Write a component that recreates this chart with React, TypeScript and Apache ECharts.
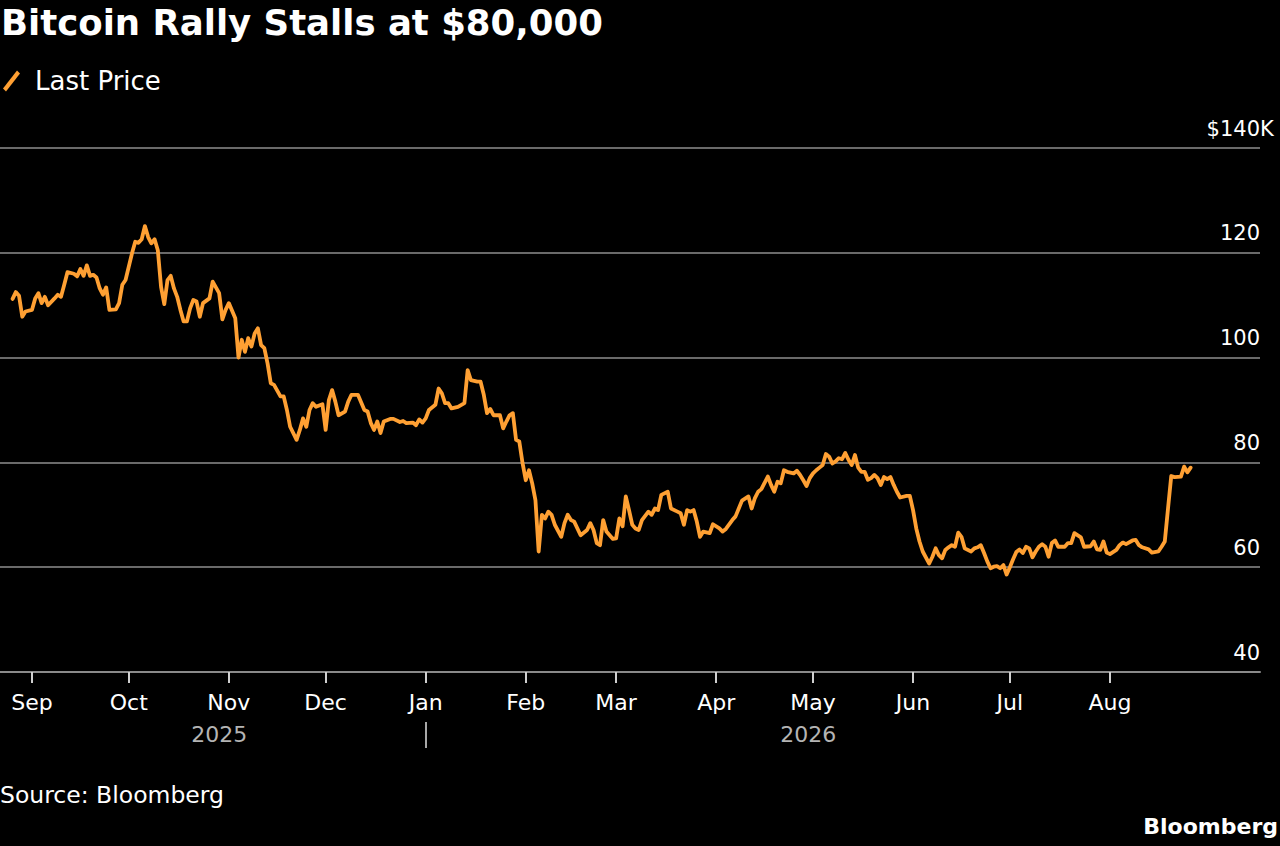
import React, { useEffect, useRef } from "react";
import * as echarts from "echarts";

const TITLE = "Bitcoin Rally Stalls at $80,000";
const SERIES_NAME = "Last Price";
const SOURCE = "Source: Bloomberg";
const BRAND = "Bloomberg";

// Day offsets from 1 Sep 2025 (UTC) and the price in $ thousands
const dayOffsets = [
  -6, -5, -4, -3, -2, 0, 1, 2, 3, 4, 5, 7, 8, 9, 10, 11, 13, 14, 15, 16, 17, 18, 19, 20, 21, 22, 23, 24, 26, 27, 28, 29,
  31, 32, 33, 34, 35, 36, 37, 38, 39, 40, 41, 42, 43, 44, 45, 46, 47, 48, 49, 50, 51, 52, 53, 55, 56, 58, 59, 60,
  61, 63, 64, 65, 66, 67, 68, 69, 70, 71, 72, 73, 74, 75, 77, 78, 79, 80, 82, 83, 84, 85, 86, 87, 88, 90,
  91, 92, 93, 94, 95, 97, 98, 99, 101, 103, 104, 105, 106, 107, 108, 109, 111, 112, 114, 115, 116, 118, 119, 120, 121,
  122, 123, 125, 126, 127, 128, 129, 130, 132, 134, 135, 136, 138, 139, 140, 141, 142, 143, 145, 146, 147, 148, 149, 150, 151, 152,
  153, 154, 155, 156, 157, 158, 159, 160, 161, 162, 164, 165, 166, 167, 168, 170, 172, 173, 174, 175, 176, 177, 178, 180,
  181, 182, 183, 184, 185, 186, 187, 188, 189, 191, 192, 193, 194, 195, 197, 198, 200, 201, 202, 203, 204, 205, 206, 207, 208, 210, 211,
  213, 214, 215, 217, 218, 219, 220, 222, 223, 224, 225, 226, 228, 229, 230, 231, 232, 233, 234, 236, 237, 238, 239, 240, 241,
  242, 243, 244, 245, 246, 247, 248, 249, 250, 251, 252, 253, 254, 255, 256, 257, 258, 259, 260, 261, 262, 263, 264, 265, 266, 267, 268, 269, 271, 272,
  273, 274, 275, 276, 278, 279, 280, 281, 282, 283, 284, 285, 286, 287, 288, 289, 291, 292, 293, 294, 295, 296, 297, 298, 299, 300, 301, 302,
  303, 304, 305, 306, 307, 308, 309, 310, 311, 312, 313, 314, 315, 316, 317, 318, 320, 321, 322, 323, 325, 326, 328, 329, 330, 331, 332, 333,
  334, 336, 337, 338, 339, 341, 342, 343, 344, 346, 347, 349, 350, 351, 352, 353, 354, 356, 357, 358, 359,
];

const prices = [
  111.2, 112.5, 111.8, 107.8, 108.8, 109.1, 111.3, 112.3, 110.4, 111.6, 110.0, 111.3, 112.0, 111.6, 113.9, 116.3, 116.0, 115.5, 116.9, 115.6, 117.6, 115.6, 115.8, 115.3, 113.2, 112.0, 113.4, 109.1, 109.2, 110.4, 113.9, 114.8,
  119.9, 122.1, 121.9, 122.6, 125.1, 123.0, 121.8, 122.6, 120.5, 113.5, 110.2, 114.8, 115.6, 113.2, 111.6, 109.1, 106.9, 106.9, 109.4, 111.0, 110.7, 107.8, 110.4, 111.3, 114.5, 112.3, 107.3, 109.1,
  110.4, 107.5, 100.0, 103.4, 101.1, 103.7, 102.1, 104.6, 105.6, 102.4, 101.8, 98.9, 95.1, 94.8, 92.6, 92.6, 90.0, 86.8, 84.3, 86.2, 88.4, 86.8, 90.0, 91.3, 90.6, 91.1,
  86.2, 91.9, 93.8, 91.6, 89.0, 89.7, 91.6, 92.9, 92.9, 90.0, 89.7, 87.5, 86.2, 87.8, 85.6, 87.8, 88.3, 88.3, 87.7, 87.9, 87.5, 87.6, 87.1, 88.2, 87.6,
  88.4, 90.0, 91.0, 94.1, 93.2, 91.3, 91.3, 90.3, 90.6, 91.3, 97.6, 95.7, 95.4, 95.4, 92.9, 89.4, 90.2, 89.0, 89.0, 86.5, 87.8, 89.0, 89.4, 84.3, 84.0, 79.9,
  76.6, 78.5, 76.0, 72.8, 63.0, 70.0, 69.3, 70.6, 70.0, 68.1, 65.8, 68.4, 70.0, 69.0, 68.7, 66.1, 67.1, 68.4, 67.1, 64.6, 64.2, 69.0, 66.8, 65.4,
  65.5, 69.3, 67.8, 73.5, 70.9, 68.1, 67.4, 67.1, 69.0, 70.6, 70.0, 71.2, 70.9, 73.8, 74.4, 71.2, 70.6, 70.3, 68.1, 70.9, 70.6, 70.9, 68.7, 65.8, 66.8, 66.5, 68.2,
  67.4, 66.8, 67.3, 69.0, 69.7, 71.2, 72.7, 73.5, 71.2, 73.2, 74.4, 74.9, 77.3, 75.7, 74.4, 76.3, 76.0, 78.5, 78.2, 77.9, 78.4, 77.6, 76.6, 75.5, 77.0,
  77.9, 78.5, 79.0, 79.5, 81.6, 81.1, 79.8, 80.2, 80.8, 80.6, 81.8, 80.5, 79.5, 81.4, 79.0, 78.2, 78.2, 76.7, 77.0, 77.6, 77.0, 75.7, 77.2, 76.8, 77.2, 75.7, 74.4, 73.3, 73.6, 73.6,
  70.9, 67.4, 64.9, 63.0, 60.7, 62.0, 63.6, 62.3, 61.7, 63.3, 63.8, 64.2, 63.9, 66.6, 65.8, 63.6, 63.0, 63.6, 63.8, 64.2, 62.7, 61.1, 59.8, 60.1, 60.2, 59.8, 60.4, 58.6,
  60.0, 61.5, 62.9, 63.4, 62.7, 63.9, 63.6, 61.9, 63.0, 63.9, 64.4, 63.9, 62.0, 64.6, 65.1, 63.9, 63.9, 64.6, 64.6, 66.5, 65.7, 63.9, 64.0, 64.9, 63.4, 63.3, 64.9, 62.8,
  62.5, 63.3, 64.2, 64.7, 64.4, 65.1, 65.2, 64.2, 63.8, 63.4, 62.8, 63.0, 63.9, 64.9, 71.2, 77.4, 77.2, 77.3, 79.2, 78.1, 79.0,
];

const monthLabels = ["Sep", "Oct", "Nov", "Dec", "Jan", "Feb", "Mar", "Apr", "May", "Jun", "Jul", "Aug"];
const yearLabels = ["2025", "2026"];
const yTicks = [40, 60, 80, 100, 120, 140];

const DAY = 86400000;
const BASE = Date.UTC(2025, 8, 1);
const FONT = "'DejaVu Sans', 'Noto Sans', sans-serif";

export default function App() {
  const ref = useRef<HTMLDivElement>(null);

  useEffect(() => {
    if (!ref.current) return;
    const chart = echarts.init(ref.current, undefined, { renderer: "svg" });

    const data = dayOffsets.map((d, i) => [BASE + d * DAY, prices[i]]);
    const monthTicks = monthLabels.map((_, i) => Date.UTC(2025, 8 + i, 1));
    const yearStart = Date.UTC(2026, 0, 1);
    const firstTs = data[0][0] as number;
    const lastTs = data[data.length - 1][0] as number;
    const yearMids = [(firstTs + yearStart) / 2, (yearStart + lastTs) / 2];
    const xMin = BASE - 9.9 * DAY;
    const xMax = BASE + 380.5 * DAY;

    const monthOf = (v: number) => {
      let best = 0;
      let bestD = Infinity;
      monthTicks.forEach((t, i) => {
        const d = Math.abs(t - v);
        if (d < bestD) {
          bestD = d;
          best = i;
        }
      });
      return monthLabels[best];
    };
    const yearOf = (v: number) => (v < yearStart ? yearLabels[0] : yearLabels[1]);

    chart.setOption({
      animation: false,
      backgroundColor: "#000000",
      textStyle: { fontFamily: FONT },
      title: [
        {
          text: TITLE,
          left: 1,
          top: 4,
          padding: 0,
          textStyle: { color: "#ffffff", fontSize: 35.5, fontWeight: "bold", fontFamily: FONT },
        },
        {
          text: SOURCE,
          left: 0,
          top: 783,
          padding: 0,
          textStyle: { color: "#ffffff", fontSize: 23.5, fontWeight: "normal", fontFamily: FONT },
        },
        {
          text: BRAND,
          right: 2,
          top: 815,
          padding: 0,
          textStyle: { color: "#ffffff", fontSize: 22, fontWeight: "bold", fontFamily: FONT },
        },
      ],
      legend: {
        data: [SERIES_NAME],
        left: 3,
        top: 68,
        padding: 0,
        itemWidth: 17,
        itemHeight: 21,
        icon: "path://M0,18L3,21L17,3L14,0Z",
        textStyle: { color: "#ffffff", fontSize: 26, fontFamily: FONT, padding: [0, 0, 0, 10] },
      },
      grid: {
        left: 0,
        right: 20,
        top: 148,
        bottom: 174,
        containLabel: false,
        outerBoundsMode: "none",
      },
      xAxis: [
        {
          type: "value",
          min: xMin,
          max: xMax,
          position: "bottom",
          axisLine: { show: true, lineStyle: { color: "#8a8a8a", width: 2 } },
          axisTick: {
            show: true,
            customValues: monthTicks,
            length: 11,
            lineStyle: { color: "#cfcfcf", width: 2 },
          },
          axisLabel: {
            customValues: monthTicks,
            formatter: (v: number) => monthOf(v),
            color: "#ffffff",
            fontSize: 22,
            fontFamily: FONT,
            margin: 19,
          },
          splitLine: { show: false },
        },
        {
          type: "value",
          min: xMin,
          max: xMax,
          position: "bottom",
          offset: 50,
          axisLine: { show: false },
          axisTick: {
            show: true,
            customValues: [yearStart],
            length: 26,
            lineStyle: { color: "#a8a8a8", width: 2 },
          },
          axisLabel: {
            customValues: yearMids,
            formatter: (v: number) => yearOf(v),
            color: "#b4b4b4",
            fontSize: 22,
            fontFamily: FONT,
            margin: 1,
          },
          splitLine: { show: false },
        },
      ],
      yAxis: {
        type: "value",
        position: "right",
        min: yTicks[0],
        max: yTicks[yTicks.length - 1],
        interval: 20,
        axisLine: { show: false },
        axisTick: { show: false },
        splitLine: { show: true, lineStyle: { color: "#6a6a6a", width: 2 } },
        axisLabel: {
          inside: true,
          margin: 0,
          align: "right",
          verticalAlign: "bottom",
          padding: [0, 0, 9, 0],
          color: "#ffffff",
          fontSize: 21,
          fontFamily: FONT,
          formatter: (v: number) => (v === yTicks[yTicks.length - 1] ? `{n|$${v}}{k|K}` : `${v}`),
          rich: {
            n: { color: "#ffffff", fontSize: 21, fontFamily: FONT, align: "left" },
            k: { color: "#ffffff", fontSize: 21, fontFamily: FONT, align: "left", width: 0 },
          },
        },
      },
      series: [
        {
          name: SERIES_NAME,
          type: "line",
          xAxisIndex: 0,
          data,
          showSymbol: false,
          symbol: "none",
          color: "#ffa033",
          lineStyle: { color: "#ffa033", width: 3.8, join: "round", cap: "round" },
          emphasis: { disabled: true },
        },
      ],
    });

    return () => chart.dispose();
  }, []);

  return (
    <div
      ref={ref}
      style={{ position: "fixed", left: 0, top: 0, width: "1280px", height: "846px", background: "#000" }}
    />
  );
}
